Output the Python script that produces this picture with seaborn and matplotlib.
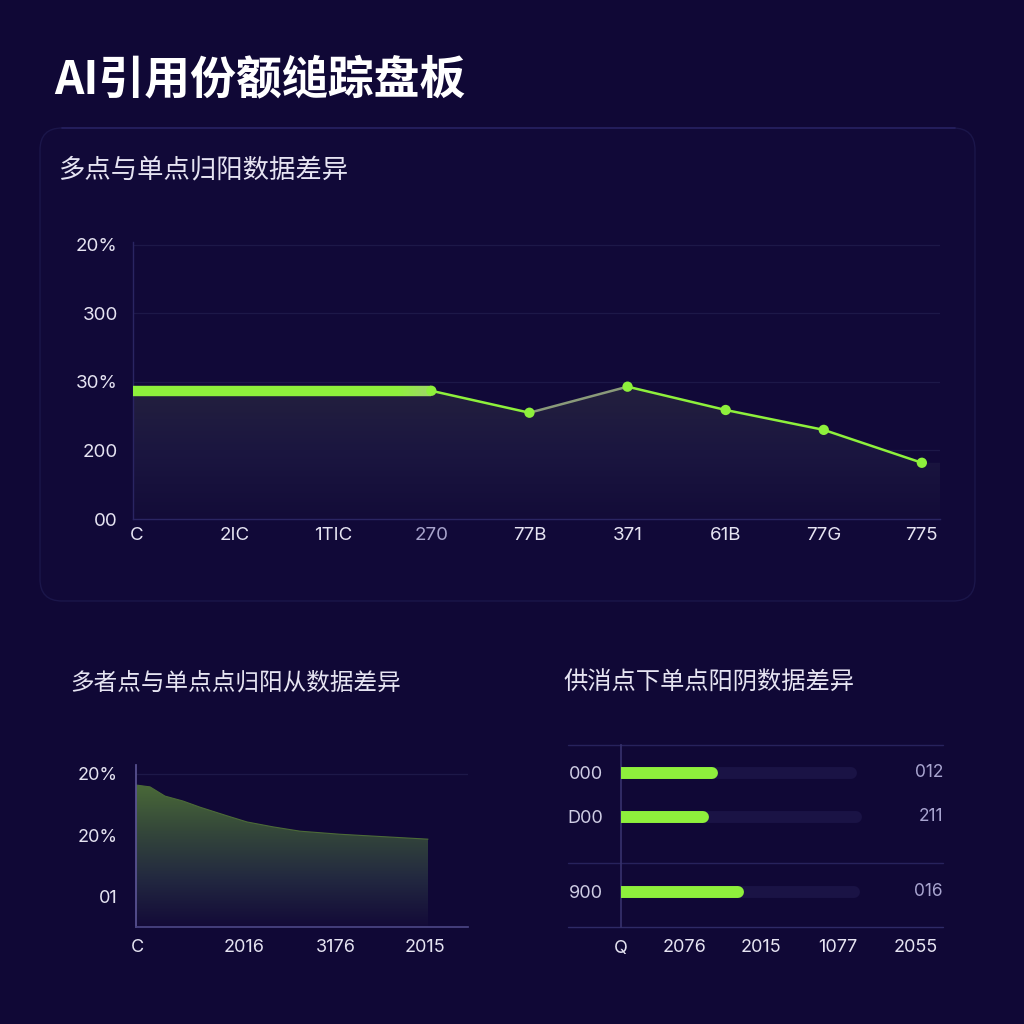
import numpy as np
import pandas as pd
import matplotlib
matplotlib.use("Agg")
import matplotlib.pyplot as plt
import seaborn as sns
from matplotlib.patches import FancyBboxPatch, Polygon
from matplotlib.colors import LinearSegmentedColormap

# ---------------- data ----------------
title_main = "AI引用份额缒踪盘板"
title_top = "多点与单点归阳数据差异"
title_bl = "多者点与单点点归阳从数据差异"
title_br = "供消点下单点阳阴数据差异"

top_xlabels = ["C", "2IC", "1TIC", "270", "77B", "371", "61B", "77G", "775"]
top_ylabels = ["00", "200", "30%", "300", "20%"]
top_bar_value = 1.87          # thick bar level (categories C..270)
top_line_idx = [3, 4, 5, 6, 7, 8]
top_line_vals = [1.87, 1.55, 1.93, 1.59, 1.30, 0.82]

bl_x = [0, 14, 19, 29, 47, 64, 91, 111, 137, 164, 204, 237, 292]
bl_y = [1.82, 1.79, 1.74, 1.64, 1.56, 1.46, 1.32, 1.22, 1.14, 1.07, 1.02, 0.99, 0.94]
bl_xticks = [1, 108, 200, 289]
bl_xlabels = ["C", "2016", "3176", "2015"]
bl_yticks = [0, 1, 2]
bl_ylabels = ["01", "20%", "20%"]

br_rows = [0, 1, 2.7]
br_left = ["000", "D00", "900"]
br_right = ["012", "211", "016"]
br_vals = [1.26, 1.14, 1.59]
br_track = [3.06, 3.13, 3.10]
br_xticks = [0, 0.82, 1.82, 2.82, 3.82]
br_xlabels = ["Q", "2076", "2015", "1077", "2055"]

# ---------------- style ----------------
BG = "#100836"
GREEN = "#8ef03c"
TXT = "#e6e4f2"
CJK = ["Noto Sans CJK SC", "DejaVu Sans"]
sns.set_theme(style="dark")
plt.rcParams["font.family"] = ["Inter", "Noto Sans CJK SC", "DejaVu Sans"]
plt.rcParams["axes.facecolor"] = BG
plt.rcParams["figure.facecolor"] = BG

W = H = 1024
fig = plt.figure(figsize=(10.24, 10.24), dpi=100)
fig.patch.set_facecolor(BG)


def ax_rect(x0, y0, x1, y1):
    return [x0 / W, 1 - y1 / H, (x1 - x0) / W, (y1 - y0) / H]


def grad_fill(ax, xs, ys, y_bottom, colors, extent_y):
    poly = Polygon(np.column_stack([np.r_[xs[0], xs, xs[-1]],
                                    np.r_[y_bottom, ys, y_bottom]]),
                   closed=True, facecolor="none", edgecolor="none")
    ax.add_patch(poly)
    cmap = LinearSegmentedColormap.from_list("g", colors)
    grad = np.linspace(1, 0, 256).reshape(-1, 1)
    im = ax.imshow(grad, cmap=cmap, aspect="auto",
                   extent=[xs[0], xs[-1], y_bottom, extent_y],
                   origin="upper", zorder=1)
    im.set_clip_path(poly)


# background layer with the card of the top chart
bg = fig.add_axes([0, 0, 1, 1], zorder=-5)
bg.set_xlim(0, W)
bg.set_ylim(H, 0)
bg.axis("off")
card = FancyBboxPatch((40, 128), 935, 473,
                      boxstyle="round,pad=0,rounding_size=22",
                      facecolor="#110938", edgecolor="#1b164a",
                      linewidth=1.0)
bg.add_patch(card)
bg.plot([62, 955], [128, 128], color="#262060", lw=1.2)

bg.text(54, 80, title_main, fontsize=33, fontweight="black",
        color="white", va="center", ha="left", family=CJK)
bg.text(58, 170, title_top, fontsize=19, color=TXT,
        va="center", ha="left", family=CJK)
bg.text(70, 683, title_bl, fontsize=17, color=TXT,
        va="center", ha="left", family=CJK)
bg.text(563, 683, title_br, fontsize=17.5, color=TXT,
        va="center", ha="left", family=CJK)

# ---------------- top chart ----------------
ax = fig.add_axes(ax_rect(133, 242, 940, 519))
ax.set_facecolor("none")
ax.set_xlim(-0.041, 8.185)
ax.set_ylim(0, 4.04)
for yv in [1, 2, 3, 4]:
    ax.axhline(yv, color="#1d1848", lw=0.9, zorder=0)

# area under the curve
fx = np.r_[-0.041, 0, 1, 2, top_line_idx, 8.185]
fy = np.r_[top_bar_value, top_bar_value, top_bar_value, top_bar_value,
           top_line_vals, top_line_vals[-1]]
grad_fill(ax, fx, fy, 0, ["#130c38", "#1b1640", "#24213e"], 2.0)

# thick bar segment with fading end
xb = np.linspace(-0.041, 3.0, 200)
cm_bar = LinearSegmentedColormap.from_list("b", [GREEN, GREEN, "#9fd46a"])
for i in range(len(xb) - 1):
    t = max(0, (xb[i] - 2.3) / 0.7)
    ax.plot(xb[i:i + 2], [top_bar_value] * 2, color=cm_bar(t), lw=7.5,
            solid_capstyle="butt", zorder=3)

df_top = pd.DataFrame({"x": top_line_idx, "y": top_line_vals})
seg_colors = [GREEN, "#8a9a7a", GREEN, GREEN, GREEN]
for i in range(len(top_line_idx) - 1):
    sns.lineplot(data=df_top.iloc[i:i + 2], x="x", y="y", ax=ax,
                 color=seg_colors[i], lw=1.8, zorder=4)
sns.scatterplot(data=df_top, x="x", y="y", ax=ax, color=GREEN, s=55,
                edgecolor="none", zorder=5)

ax.set_xticks(range(len(top_xlabels)))
ax.set_xticklabels(top_xlabels)
ax.set_yticks(range(len(top_ylabels)))
ax.set_yticklabels(top_ylabels)
ax.tick_params(colors=TXT, labelsize=13.5, length=0)
ax.tick_params(axis="x", pad=6)
ax.tick_params(axis="y", pad=11)
ax.get_xticklabels()[3].set_color("#a8a4cc")
ax.grid(False)
ax.set_xlabel("")
ax.set_ylabel("")
for s in ["top", "right"]:
    ax.spines[s].set_visible(False)
for s in ["left", "bottom"]:
    ax.spines[s].set_color("#2a2562")
    ax.spines[s].set_linewidth(1.0)

# ---------------- bottom-left chart ----------------
ax2 = fig.add_axes(ax_rect(136, 765, 468, 927))
ax2.set_facecolor("none")
ax2.set_xlim(0, 332)
ax2.set_ylim(-0.488, 2.146)
ax2.axhline(2.0, color="#1d1848", lw=0.9, zorder=0)
grad_fill(ax2, np.array(bl_x, float), np.array(bl_y, float), -0.488,
          ["#130a38", "#222840", "#34473a", "#4a6a38"], 1.85)
sns.lineplot(x=bl_x, y=bl_y, ax=ax2, color="#4c6a38", lw=0.8, zorder=2)
ax2.set_xticks(bl_xticks)
ax2.set_xticklabels(bl_xlabels)
ax2.set_yticks(bl_yticks)
ax2.set_yticklabels(bl_ylabels)
ax2.tick_params(colors=TXT, labelsize=13, length=0)
ax2.tick_params(axis="x", pad=9)
ax2.tick_params(axis="y", pad=13)
ax2.grid(False)
for s in ["top", "right"]:
    ax2.spines[s].set_visible(False)
ax2.spines["left"].set_color("#5a5494")
ax2.spines["bottom"].set_color("#4a4584")

# ---------------- bottom-right chart ----------------
ax3 = fig.add_axes(ax_rect(621, 745, 943, 927))
ax3.set_facecolor("none")
ax3.set_xlim(0, 4.18)
ax3.set_ylim(3.5, -0.636)
for yy in [-0.636, 2.05]:
    ax3.plot([-0.69, 4.18], [yy, yy], color="#27225c", lw=1.0,
             clip_on=False, zorder=0)
ax3.plot([-0.69, 4.18], [3.5, 3.5], color="#2e2a66", lw=1.0,
         clip_on=False, zorder=0)

lw_pt = 8.6
px_per_unit = 322 / 4.18
cap = (lw_pt * 100 / 72) / 2 / px_per_unit
for r, v, tr in zip(br_rows, br_vals, br_track):
    sns.lineplot(x=[-1, tr - cap], y=[r, r], ax=ax3, color="#1a1345",
                 lw=lw_pt, solid_capstyle="round", zorder=2)
    sns.lineplot(x=[-1, v - cap], y=[r, r], ax=ax3, color=GREEN,
                 lw=lw_pt, solid_capstyle="round", zorder=3)
ax3.set_yticks(br_rows)
ax3.set_yticklabels(br_left)
for r, lab in zip(br_rows, br_right):
    ax3.text(1.0, r, lab, transform=ax3.get_yaxis_transform(),
             ha="right", va="center", fontsize=12.5, color="#a9a5d0")
ax3.set_xticks(br_xticks)
ax3.set_xticklabels(br_xlabels)
ax3.tick_params(colors=TXT, labelsize=13, length=0)
ax3.tick_params(axis="x", pad=9)
ax3.tick_params(axis="y", pad=13, labelcolor="#cfcde4")
ax3.grid(False)
for s in ["top", "right", "bottom"]:
    ax3.spines[s].set_visible(False)
ax3.spines["left"].set_color("#35306c")

fig.savefig("out.png", dpi=100, facecolor=BG)
